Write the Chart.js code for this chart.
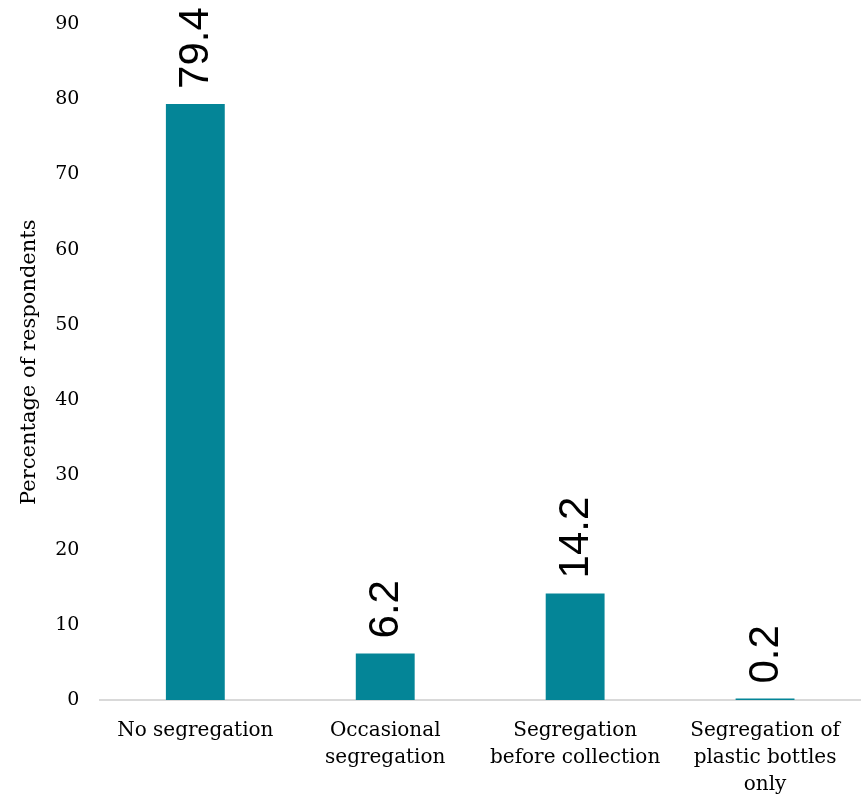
<!DOCTYPE html>
<html>
<head>
<meta charset="utf-8">
<script src="https://cdn.jsdelivr.net/npm/chart.js@4/dist/chart.umd.min.js"></script>
<style>
  html, body { margin: 0; padding: 0; background: #fff; }
  #wrap { width: 862px; height: 796px; }
</style>
</head>
<body>
<div id="wrap"><canvas id="segChart"></canvas></div>
<script>
const categories = [
    "No segregation",
    ["Occasional", "segregation"],
    ["Segregation", "before collection"],
    ["Segregation of", "plastic bottles", "only"]
];
const shares = [79.4, 6.2, 14.2, 0.2];
const yTicks = [0, 10, 20, 30, 40, 50, 60, 70, 80, 90];

const serif = "'DejaVu Serif', serif";

// draws the value above each bar, turned on its side
const rotatedLabels = {
    id: "rotatedLabels",
    afterDatasetsDraw(chart) {
        const ctx = chart.ctx;
        const meta = chart.getDatasetMeta(0);
        ctx.save();
        ctx.font = "42px 'Liberation Sans', Arial, sans-serif";
        ctx.fillStyle = "#000";
        ctx.textAlign = "left";
        ctx.textBaseline = "middle";
        meta.data.forEach((bar, i) => {
            ctx.save();
            ctx.translate(bar.x + 1, bar.y - 15);
            ctx.rotate(-Math.PI / 2);
            ctx.fillText(shares[i].toFixed(1), 0, 0);
            ctx.restore();
        });
        ctx.restore();
    }
};

new Chart(document.getElementById("segChart"), {
    type: "bar",
    data: {
        labels: categories,
        datasets: [{
            data: shares,
            backgroundColor: "#048597",
            barPercentage: 0.62,
            categoryPercentage: 0.5
        }]
    },
    options: {
        responsive: true,
        maintainAspectRatio: false,
        animation: false,
        layout: { padding: { top: 17, right: 2, left: 17, bottom: -11 } },
        plugins: {
            legend: { display: false },
            tooltip: { enabled: false }
        },
        scales: {
            x: {
                grid: { display: false },
                border: { display: true, color: "#d9d9d9", width: 2 },
                ticks: {
                    color: "#000",
                    font: { family: serif, size: 20, lineHeight: 1.35 },
                    maxRotation: 0,
                    autoSkip: false,
                    padding: 9
                }
            },
            y: {
                min: 0,
                max: 90,
                afterBuildTicks: (axis) => { axis.ticks = yTicks.map(v => ({ value: v })); },
                grid: { display: false },
                border: { display: false },
                ticks: {
                    color: "#000",
                    font: { family: serif, size: 19 },
                    padding: 13
                },
                title: {
                    display: true,
                    text: "Percentage of respondents",
                    color: "#000",
                    font: { family: serif, size: 21 },
                    padding: { top: 0, bottom: 0 }
                }
            }
        }
    },
    plugins: [rotatedLabels]
});
</script>
</body>
</html>
